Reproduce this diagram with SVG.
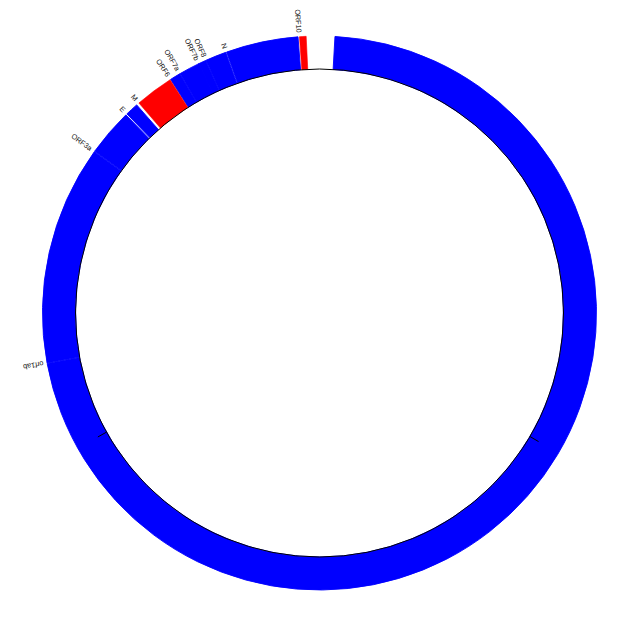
<svg xmlns="http://www.w3.org/2000/svg" width="639" height="628" viewBox="0 0 639 628">
<style>
.blue{fill:#0000ff;stroke:#0000ff;stroke-width:0.9;stroke-linejoin:miter}
.red{fill:#ff0000;stroke:#ff0000;stroke-width:0.6}
.lbl{font-family:"Liberation Sans",Arial,sans-serif;font-size:7.3px;fill:#111}
.in{text-anchor:end}
.out{text-anchor:start}
.tick{stroke:#000;stroke-width:1}
</style>
<rect width="639" height="628" fill="#fff"/>
<g id="ORF1ab"><path class="blue" d="M334.97 36.43 A277 277 0 1 1 47.14 363.48 L79.59 357.47 A244 244 0 1 0 333.13 69.38 Z"/></g>
<g id="S"><path class="blue" d="M47.05 363.00 A277 277 0 0 1 94.32 151.69 L121.15 170.90 A244 244 0 0 0 79.51 357.05 Z"/>
<text class="lbl out" transform="translate(43.5,363.5) rotate(169.6)" dy="0.35em">orf1ab</text></g>
<g id="ORF3a"><path class="blue" d="M94.60 151.29 A277 277 0 0 1 125.90 114.89 L148.97 138.49 A244 244 0 0 0 121.39 170.56 Z"/>
<text class="lbl in" transform="translate(91.3,149.0) rotate(35.7)" dy="0.35em">ORF3a</text></g>
<g id="E"><path class="blue" d="M126.93 113.89 A277 277 0 0 1 136.68 104.89 L158.46 129.68 A244 244 0 0 0 149.87 137.61 Z"/>
<text class="lbl in" transform="translate(124.2,111.0) rotate(45.96)" dy="0.35em">E</text></g>
<g id="ORF6"><path class="blue" d="M170.58 79.43 A277 277 0 0 1 179.78 73.81 L196.43 102.31 A244 244 0 0 0 188.33 107.26 Z"/>
<text class="lbl in" transform="translate(168.4,76.1) rotate(57.48)" dy="0.35em">ORF6</text></g>
<g id="ORF7a"><path class="blue" d="M180.11 73.62 A277 277 0 0 1 198.89 63.64 L213.26 93.35 A244 244 0 0 0 196.72 102.14 Z"/>
<text class="lbl in" transform="translate(178.1,70.2) rotate(59.79)" dy="0.35em">ORF7a</text></g>
<g id="ORF7b"><path class="blue" d="M198.73 63.73 A277 277 0 0 1 205.63 60.49 L219.19 90.57 A244 244 0 0 0 213.12 93.42 Z"/>
<text class="lbl in" transform="translate(197.0,60.1) rotate(64.15)" dy="0.35em">ORF7b</text></g>
<g id="ORF8"><path class="blue" d="M205.99 60.32 A277 277 0 0 1 225.71 52.37 L236.88 83.42 A244 244 0 0 0 219.51 90.42 Z"/>
<text class="lbl in" transform="translate(204.4,56.7) rotate(65.81)" dy="0.35em">ORF8</text></g>
<g id="N"><path class="blue" d="M226.54 52.07 A277 277 0 0 1 298.00 36.83 L300.57 69.73 A244 244 0 0 0 237.61 83.15 Z"/>
<text class="lbl in" transform="translate(225.2,48.3) rotate(70.39)" dy="0.35em">N</text></g>
<g id="M"><path class="red" d="M138.90 102.98 A277 277 0 0 1 170.06 79.77 L187.86 107.55 A244 244 0 0 0 160.41 128.00 Z"/>
<text class="lbl in" transform="translate(136.3,100.0) rotate(49.31)" dy="0.35em">M</text></g>
<g id="ORF10"><path class="red" d="M299.45 36.72 A277 277 0 0 1 306.16 36.32 L307.75 69.28 A244 244 0 0 0 301.83 69.63 Z"/>
<text class="lbl in" transform="translate(299.2,32.7) rotate(85.85)" dy="0.35em">ORF10</text></g>
<g id="axis">
<circle cx="319.5" cy="313" r="244" fill="none" stroke="#000" stroke-width="1"/>
<line class="tick" x1="529.93" y1="436.51" x2="538.55" y2="441.57"/>
<line class="tick" x1="106.56" y1="432.10" x2="97.83" y2="436.98"/>
</g>
<g id="connectors"/>
</svg>
